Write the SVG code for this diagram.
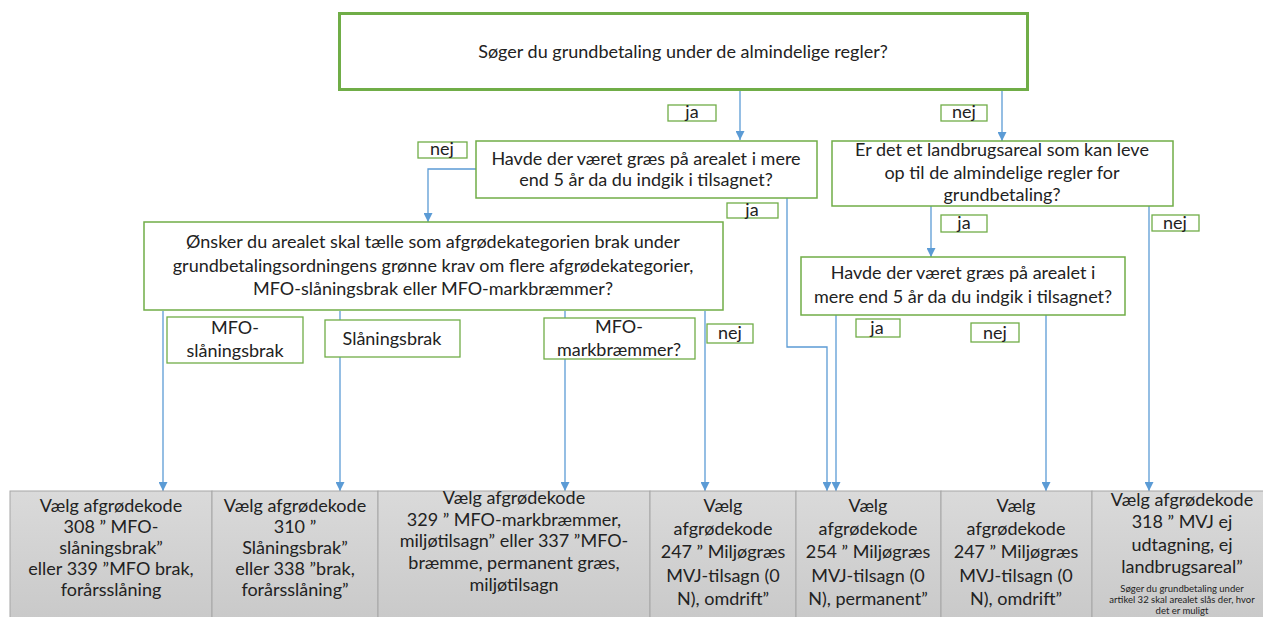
<svg xmlns="http://www.w3.org/2000/svg" width="1263" height="617" viewBox="0 0 1263 617">
<style>
.q{fill:#fff;stroke:#70ad47;stroke-width:1.5}
.lb{fill:#fff;stroke:#70ad47;stroke-width:1.3}
.t{font-family:Lato,"Open Sans","Liberation Sans",sans-serif;font-size:18px;fill:#222;text-anchor:middle}
.s{font-size:9.5px}
.c{fill:none;stroke:#5b9bd5;stroke-width:1.3}
.a{marker-end:url(#ar)}
.g{fill:url(#gr);stroke:#a6a6a6;stroke-width:1}
</style>
<defs>
<marker id="ar" markerUnits="userSpaceOnUse" markerWidth="9" markerHeight="9" refX="9" refY="4.5" orient="auto">
<path d="M0,0 L9,4.5 L0,9 z" fill="#5b9bd5"/>
</marker>
<linearGradient id="gr" x1="0" y1="0" x2="0" y2="1">
<stop offset="0" stop-color="#dadada"/>
<stop offset="1" stop-color="#c9c9c9"/>
</linearGradient>
</defs>
<rect width="1263" height="617" fill="#fff"/>

<g id="connectors">
<path class="c a" d="M740,91 V140"/>
<path class="c a" d="M1002,91 V141"/>
<path class="c a" d="M476,169 H428 V222"/>
<path class="c a" d="M787,198 V347 H827 V491"/>
<path class="c a" d="M931,206 V257"/>
<path class="c a" d="M1149,206 V491"/>
<path class="c a" d="M836,315 V491"/>
<path class="c a" d="M1046,315 V491"/>
<path class="c a" d="M163,311 V491"/>
<path class="c a" d="M340,311 V491"/>
<path class="c a" d="M565,311 V491"/>
<path class="c a" d="M705,311 V491"/>
</g>

<g id="q-top">
<rect x="339.5" y="13.5" width="688" height="76" fill="#fff" stroke="#70ad47" stroke-width="3"/>
<text class="t" x="683" y="58">Søger du grundbetaling under de almindelige regler?</text>
</g>

<g id="q-gras1">
<rect class="q" x="476" y="141" width="341" height="57"/>
<text class="t" x="646" y="165">Havde der været græs på arealet i mere</text>
<text class="t" x="646" y="186">end 5 år da du indgik i tilsagnet?</text>
</g>

<g id="q-landbrug">
<rect class="q" x="832" y="141" width="341" height="65"/>
<text class="t" x="1002" y="156">Er det et landbrugsareal som kan leve</text>
<text class="t" x="1002" y="179">op til de almindelige regler for</text>
<text class="t" x="1002" y="201">grundbetaling?</text>
</g>

<g id="q-brak">
<rect class="q" x="144" y="222" width="579" height="88"/>
<text class="t" x="433" y="248">Ønsker du arealet skal tælle som afgrødekategorien brak under</text>
<text class="t" x="433" y="272">grundbetalingsordningens grønne krav om flere afgrødekategorier,</text>
<text class="t" x="433" y="295">MFO-slåningsbrak eller MFO-markbræmmer?</text>
</g>

<g id="q-gras2">
<rect class="q" x="801" y="257" width="324" height="58"/>
<text class="t" x="963" y="279">Havde der været græs på arealet i</text>
<text class="t" x="963" y="303">mere end 5 år da du indgik i tilsagnet?</text>
</g>

<g id="lbl-ja1"><rect class="lb" x="668" y="105" width="48" height="16"/><text class="t" x="692" y="118">ja</text></g>
<g id="lbl-nej1"><rect class="lb" x="941" y="105" width="46" height="16"/><text class="t" x="964" y="118">nej</text></g>
<g id="lbl-nej2"><rect class="lb" x="418" y="142" width="49" height="16"/><text class="t" x="442" y="155">nej</text></g>
<g id="lbl-ja2"><rect class="lb" x="727" y="203" width="51" height="15"/><text class="t" x="752" y="216">ja</text></g>
<g id="lbl-ja3"><rect class="lb" x="941" y="215" width="46" height="17"/><text class="t" x="964" y="229">ja</text></g>
<g id="lbl-nej3"><rect class="lb" x="1152" y="215" width="47" height="16"/><text class="t" x="1175" y="229">nej</text></g>
<g id="lbl-ja4"><rect class="lb" x="856" y="319" width="44" height="18"/><text class="t" x="877" y="334">ja</text></g>
<g id="lbl-nej4"><rect class="lb" x="971" y="323" width="48" height="19"/><text class="t" x="995" y="339">nej</text></g>
<g id="lbl-nej5"><rect class="lb" x="707" y="324" width="46" height="19"/><text class="t" x="730" y="339">nej</text></g>
<g id="lbl-mfo-slaan"><rect class="lb" x="167" y="317" width="136" height="46"/><text class="t" x="235" y="334">MFO-</text><text class="t" x="235" y="357">slåningsbrak</text></g>
<g id="lbl-slaan"><rect class="lb" x="325" y="320" width="135" height="37"/><text class="t" x="392" y="345">Slåningsbrak</text></g>
<g id="lbl-mfo-mark"><rect class="lb" x="544" y="318" width="151" height="41"/><text class="t" x="619" y="333">MFO-</text><text class="t" x="619" y="356">markbræmmer?</text></g>

<g id="r308">
<rect class="g" x="10" y="491" width="202" height="130"/>
<text class="t" x="111" y="512">Vælg afgrødekode</text>
<text class="t" x="111" y="533">308 ” MFO-</text>
<text class="t" x="111" y="554">slåningsbrak”</text>
<text class="t" x="111" y="575">eller 339 ”MFO brak,</text>
<text class="t" x="111" y="596">forårsslåning</text>
</g>
<g id="r310">
<rect class="g" x="212" y="491" width="166" height="130"/>
<text class="t" x="295" y="512">Vælg afgrødekode</text>
<text class="t" x="295" y="533">310 ”</text>
<text class="t" x="295" y="554">Slåningsbrak”</text>
<text class="t" x="295" y="575">eller 338 ”brak,</text>
<text class="t" x="295" y="596">forårsslåning”</text>
</g>
<g id="r329">
<rect class="g" x="378" y="491" width="272" height="130"/>
<text class="t" x="514" y="504">Vælg afgrødekode</text>
<text class="t" x="514" y="526">329 ” MFO-markbræmmer,</text>
<text class="t" x="514" y="547">miljøtilsagn” eller 337 ”MFO-</text>
<text class="t" x="514" y="569">bræmme, permanent græs,</text>
<text class="t" x="514" y="591">miljøtilsagn</text>
</g>
<g id="r247a">
<rect class="g" x="650" y="491" width="146" height="130"/>
<text class="t" x="723" y="512">Vælg</text>
<text class="t" x="723" y="535">afgrødekode</text>
<text class="t" x="723" y="558">247 ” Miljøgræs</text>
<text class="t" x="723" y="582">MVJ-tilsagn (0</text>
<text class="t" x="723" y="605">N), omdrift”</text>
</g>
<g id="r254">
<rect class="g" x="796" y="491" width="145" height="130"/>
<text class="t" x="868" y="512">Vælg</text>
<text class="t" x="868" y="535">afgrødekode</text>
<text class="t" x="868" y="558">254 ” Miljøgræs</text>
<text class="t" x="868" y="582">MVJ-tilsagn (0</text>
<text class="t" x="868" y="605">N), permanent”</text>
</g>
<g id="r247b">
<rect class="g" x="941" y="491" width="151" height="130"/>
<text class="t" x="1016" y="512">Vælg</text>
<text class="t" x="1016" y="535">afgrødekode</text>
<text class="t" x="1016" y="558">247 ” Miljøgræs</text>
<text class="t" x="1016" y="582">MVJ-tilsagn (0</text>
<text class="t" x="1016" y="605">N), omdrift”</text>
</g>
<g id="r318">
<rect class="g" x="1092" y="491" width="182" height="130"/>
<text class="t" x="1182" y="506">Vælg afgrødekode</text>
<text class="t" x="1182" y="528">318 ” MVJ ej</text>
<text class="t" x="1182" y="551">udtagning, ej</text>
<text class="t" x="1182" y="573">landbrugsareal”</text>
<text class="t s" x="1182" y="592">Søger du grundbetaling under</text>
<text class="t s" x="1182" y="603">artikel 32 skal arealet slås der, hvor</text>
<text class="t s" x="1182" y="614">det er muligt</text>
</g>
</svg>
